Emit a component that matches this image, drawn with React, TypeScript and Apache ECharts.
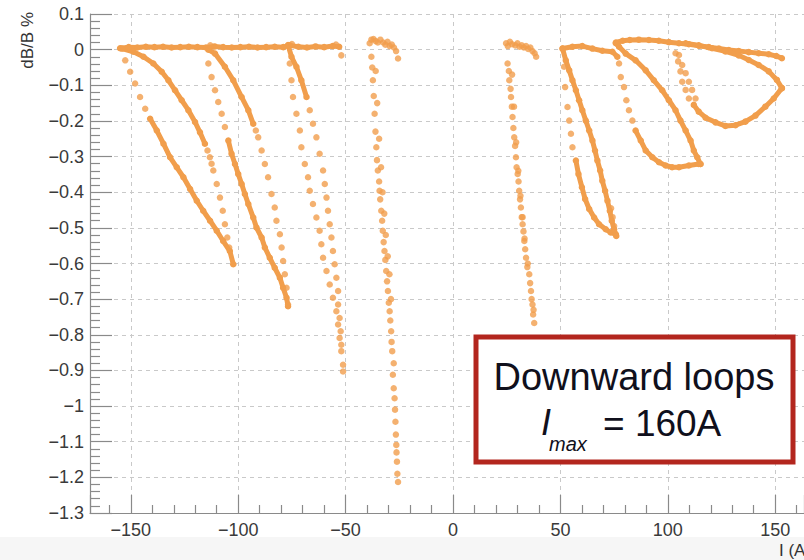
import React, { useEffect, useRef } from 'react';
import * as echarts from 'echarts';

const ORANGE = '#f19e4c';

// axis ranges; y tick values -1.3 .. 0.1 step 0.1
const yMin = -1.3;
const yMax = 0.1;
const xMin = -169;
const xMax = 163.4;

// ---------- negative current side ----------
const topNeg = [[-155,0.004],[-151,0.007],[-147,0.006],[-143,0.008],[-139,0.007],[-135,0.008],[-131,0.006],[-127,0.007],[-123,0.008],[-119,0.007],[-115,0.006],[-111,0.009],[-107,0.007],[-103,0.006],[-99,0.007],[-95,0.008],[-91,0.006],[-87,0.007],[-83,0.008],[-79,0.007],[-76,0.012],[-72,0.008],[-68,0.006],[-64,0.009],[-60,0.007],[-56,0.01],[-53,0.008]];
const topNegExtra = [[-52,-0.016],[-54.5,0.014],[-75,0.016],[-113,0.012]];

const loop1Curve = [[-154.1,0.003],[-148.8,-0.006],[-144.1,-0.02],[-139.5,-0.039],[-135.6,-0.062],[-132.5,-0.086],[-129.4,-0.114],[-126.3,-0.142],[-123.2,-0.17],[-120.1,-0.203],[-117.8,-0.232],[-115.5,-0.264]];
const loop1CurveLow = [[-114.3,-0.283],[-113.2,-0.302],[-112.4,-0.32],[-111.6,-0.339],[-110.0,-0.377],[-108.5,-0.415],[-107.2,-0.452],[-106.2,-0.49],[-105.1,-0.527],[-104.2,-0.555]];
const loop1StraightTop = [[-152.6,-0.03],[-150.3,-0.062],[-148.0,-0.095],[-145.7,-0.133],[-143.3,-0.166]];
const loop1StraightLow = [[-141.0,-0.194],[-137.9,-0.227],[-134.8,-0.264],[-131.7,-0.302],[-128.6,-0.33],[-125.5,-0.358],[-122.4,-0.391],[-119.3,-0.424],[-116.3,-0.452],[-113.1,-0.48],[-110.0,-0.508],[-107.0,-0.537],[-103.9,-0.565],[-102.3,-0.602]];

const loop2LeftTop = [[-113.9,-0.039],[-112.4,-0.077],[-110.8,-0.114],[-109.3,-0.147],[-107.7,-0.18],[-106.2,-0.217]];
const loop2LeftLow = [[-104.6,-0.255],[-103.1,-0.292],[-101.5,-0.321],[-100.0,-0.349],[-98.4,-0.377],[-96.9,-0.405],[-95.3,-0.433],[-93.0,-0.471],[-91.5,-0.499],[-89.1,-0.527],[-87.6,-0.555],[-85.3,-0.584],[-83.0,-0.612],[-80.6,-0.64],[-79.1,-0.668],[-77.5,-0.696],[-76.8,-0.72]];
const loop2RightTop = [[-113.9,0.0],[-110.8,-0.011],[-106.2,-0.048],[-102.3,-0.086],[-98.4,-0.133],[-95.3,-0.17],[-93.0,-0.208]];
const loop2RightLow = [[-91.8,-0.227],[-90.7,-0.246],[-89.1,-0.283],[-87.6,-0.321],[-86.1,-0.358],[-84.5,-0.405],[-83.0,-0.443],[-82.2,-0.48],[-80.6,-0.518],[-79.8,-0.555],[-79.1,-0.593],[-78.3,-0.63],[-77.5,-0.668],[-76.8,-0.715]];

const loop3Left = [[-76.0,-0.039],[-75.2,-0.086],[-74.5,-0.133],[-72.9,-0.18],[-71.3,-0.227],[-70.6,-0.274],[-69.0,-0.321],[-67.5,-0.358],[-66.7,-0.396],[-65.2,-0.433],[-63.6,-0.471],[-62.1,-0.508],[-61.3,-0.546],[-60.5,-0.584],[-58.9,-0.621],[-57.4,-0.659],[-55.9,-0.696],[-54.3,-0.734],[-53.5,-0.771],[-52.8,-0.809],[-52.0,-0.846],[-51.2,-0.884],[-51.2,-0.903]];
const loop3RightTop = [[-76.8,0.013],[-75.2,-0.02],[-72.9,-0.048],[-70.6,-0.086],[-68.2,-0.133]];
const loop3RightLow = [[-66.7,-0.17],[-65.2,-0.208],[-63.6,-0.246],[-62.1,-0.292],[-60.5,-0.339],[-59.7,-0.377],[-58.9,-0.415],[-58.2,-0.452],[-57.4,-0.49],[-56.6,-0.527],[-55.9,-0.565],[-55.1,-0.602],[-54.3,-0.64],[-53.5,-0.677],[-53.5,-0.715],[-52.8,-0.753],[-52.3,-0.79],[-52.0,-0.828]];

const loop4Top = [[-38.8,0.018],[-38,0.028],[-37,0.03],[-36,0.024],[-35,0.02],[-33.8,0.028],[-32.5,0.02],[-31.5,0.014],[-30.5,0.022],[-29.5,0.01],[-28.5,0.014],[-27.5,0.006],[-26.5,-0.004],[-25.6,-0.025],[-38.0,-0.02]];
const loop4A = [[-37.3,-0.086],[-36.5,-0.18],[-35.7,-0.274],[-35.0,-0.339],[-34.2,-0.396],[-33.4,-0.452],[-32.7,-0.508],[-31.9,-0.565],[-31.1,-0.621],[-30.3,-0.677],[-29.5,-0.734],[-28.8,-0.79],[-28.3,-0.846],[-28.0,-0.912],[-27.2,-0.978],[-26.8,-1.044],[-26.4,-1.109],[-26.1,-1.156],[-25.6,-1.213]];
const loop4B = [[-37.6,-0.05],[-36.9,-0.13],[-36.1,-0.23],[-35.4,-0.31],[-34.4,-0.37],[-33.9,-0.42],[-33.0,-0.48],[-32.3,-0.54],[-31.5,-0.59],[-30.7,-0.65],[-29.9,-0.71],[-29.2,-0.76],[-28.6,-0.82],[-27.6,-0.88],[-27.6,-0.95],[-27.0,-1.01],[-26.6,-1.08],[-26.3,-1.13],[-25.9,-1.19]];
const loop4C = [[-36.0,-0.06],[-35.3,-0.15],[-34.4,-0.25],[-33.5,-0.33],[-32.8,-0.4],[-32.0,-0.46],[-31.3,-0.52],[-30.4,-0.58],[-29.6,-0.63],[-28.9,-0.7]];

// ---------- positive current side ----------
const loop5Top = [[24.7,0.018],[25.5,0.01],[26.5,0.022],[27.5,0.015],[29,0.012],[30,0.018],[31,0.008],[32,0.012],[33,0.006],[34,0.01],[35,0.002],[36,0.006],[37,-0.004],[38,-0.01],[38.7,-0.02]];
const loop5A = [[25.4,-0.039],[26.2,-0.086],[27.0,-0.133],[27.7,-0.189],[28.5,-0.246],[29.3,-0.302],[30.1,-0.349],[30.8,-0.396],[31.6,-0.443],[32.4,-0.49],[33.2,-0.537],[34.0,-0.584],[35.5,-0.63],[36.3,-0.677],[37.0,-0.715],[37.3,-0.743],[37.8,-0.767]];
const loop5B = [[26.0,-0.06],[26.8,-0.11],[27.4,-0.16],[28.1,-0.22],[28.9,-0.27],[29.6,-0.33],[30.5,-0.37],[31.2,-0.42],[32.0,-0.47],[32.8,-0.51],[33.6,-0.56],[34.6,-0.61],[35.9,-0.655],[36.6,-0.7],[37.5,-0.73]];
const loop5C = [[27.5,-0.07],[28.4,-0.16],[29.4,-0.26],[30.4,-0.34],[31.4,-0.41],[32.4,-0.47],[33.3,-0.53],[34.8,-0.6]];

const loop6Top = [[51.0,0.003],[55.6,0.008],[60.2,0.01],[64.9,0.003],[69.5,-0.003],[74.2,-0.006],[76.5,-0.02]];
const loop6OuterTop = [[51.7,-0.048],[52.2,-0.105],[53.3,-0.161],[54.1,-0.199],[54.9,-0.236],[55.6,-0.274]];
const loop6OuterLow = [[57.2,-0.311],[58.4,-0.349],[60.0,-0.386],[61.5,-0.419],[63.4,-0.447],[65.7,-0.471],[68.0,-0.49],[71.1,-0.504],[73.4,-0.513],[75.8,-0.518]];
const loop6Inner = [[51.0,0.003],[52.5,-0.03],[54.1,-0.058],[55.6,-0.086],[57.2,-0.114],[58.7,-0.142],[60.2,-0.17],[61.8,-0.199],[63.4,-0.227],[64.9,-0.255],[66.1,-0.283],[67.2,-0.311],[68.5,-0.339],[69.5,-0.368],[70.8,-0.396],[71.9,-0.424],[73.0,-0.452],[73.9,-0.48],[75.0,-0.504],[76.0,-0.523]];
const loop6Dots = [[73.6,-0.445],[74.3,-0.47],[75.0,-0.495]];

const topPos = [[75.8,0.02],[79,0.025],[82.3,0.027],[86.5,0.028],[91.2,0.027],[95.8,0.025],[100.5,0.021],[105.2,0.018],[109.8,0.015],[114.5,0.011],[119.1,0.007],[123.8,0.003],[128.4,-0.001],[133.0,-0.004],[137.7,-0.007],[142.3,-0.01],[147.0,-0.013],[150.5,-0.018],[153.1,-0.024]];
const loop7Right = [[75.8,0.018],[77.3,0.008],[80.4,-0.011],[85.0,-0.03],[89.7,-0.058],[93.5,-0.086],[97.4,-0.114],[100.5,-0.142],[103.6,-0.17],[105.9,-0.199],[108.3,-0.227],[110.6,-0.255],[112.1,-0.283],[113.7,-0.302],[115.2,-0.321]];
const loop7LeftTop = [[77.3,-0.039],[78.1,-0.077],[79.6,-0.105],[80.7,-0.142],[81.9,-0.17],[83.5,-0.199]];
const loop7LeftLow = [[85.0,-0.227],[87.4,-0.255],[89.7,-0.283],[92.8,-0.302],[95.9,-0.316],[99.0,-0.325],[102.0,-0.33],[105.2,-0.33],[109.8,-0.325],[114.4,-0.321],[115.2,-0.321]];

const loop8DotA = [[103.6,-0.01],[104.8,-0.033],[105.9,-0.061],[106.7,-0.09],[108.3,-0.113],[109.8,-0.137]];
const loop8DotB = [[105.2,-0.015],[106.7,-0.043],[108.3,-0.066],[109.8,-0.09],[111.3,-0.113],[112.9,-0.137]];
const loop8Bottom = [[112.1,-0.155],[114.4,-0.174],[117.6,-0.191],[122.2,-0.204],[126.8,-0.214],[131.5,-0.212],[136.1,-0.202],[140.8,-0.185],[145.4,-0.16],[149.3,-0.137],[153.1,-0.108]];
const loop8Return = [[153.1,-0.108],[150.8,-0.085],[147.0,-0.061],[142.3,-0.043],[137.7,-0.029],[133.0,-0.016],[126.8,-0.005],[120.6,0.004],[114.4,0.012],[108.3,0.018]];

const denseBranches = [topNeg, loop1Curve, loop1StraightLow, loop2LeftLow, loop2RightTop, loop3RightTop, loop6Top, loop6OuterLow, loop6Inner, topPos, loop7Right, loop7LeftLow, loop8Bottom, loop8Return];
const sparseBranches = [topNegExtra, loop1CurveLow, loop1StraightTop, loop2LeftTop, loop2RightLow, loop3Left, loop3RightLow, loop4Top, loop4A, loop4B, loop4C, loop5Top, loop5A, loop5B, loop5C, loop6OuterTop, loop6Dots, loop7LeftTop, loop8DotA, loop8DotB];

const FONT = '"Liberation Sans", Arial, Helvetica, sans-serif';
const MINUS = '\u2212';

export default function App() {
  const ref = useRef<HTMLDivElement>(null);
  useEffect(() => {
    const chart = echarts.init(ref.current as HTMLDivElement, null, { renderer: 'svg' });
    const series: any[] = [
      ...denseBranches.map((d) => ({
        type: 'line', data: d, symbol: 'circle', symbolSize: 6.5, showSymbol: true, showAllSymbol: true,
        lineStyle: { width: 5, color: ORANGE, cap: 'round', join: 'round' },
        itemStyle: { color: ORANGE }, silent: true, z: 3,
      })),
      ...sparseBranches.map((d) => ({
        type: 'scatter', data: d, symbol: 'circle', symbolSize: 6.5,
        itemStyle: { color: ORANGE }, silent: true, z: 3,
      })),
    ];
    chart.setOption({
      animation: false,
      backgroundColor: '#ffffff',
      grid: { left: 90, right: 0, top: 14, bottom: 47 },
      xAxis: {
        type: 'value', min: xMin, max: xMax, splitNumber: 6,
        axisLine: { show: true, onZero: false, lineStyle: { color: '#8a8a8a', width: 1.2 } },
        axisTick: { show: true, inside: true, length: 18, lineStyle: { color: '#8a8a8a', width: 1.2 } },
        minorTick: { show: true, splitNumber: 5, length: 8, lineStyle: { color: '#8a8a8a', width: 1.2 } },
        splitLine: { show: true, lineStyle: { color: '#c9c9c9', type: [4, 4], width: 1 } },
        axisLabel: {
          fontSize: 18, color: '#3a3a3a', fontFamily: FONT, margin: 8,
          showMinLabel: false, showMaxLabel: false,
          formatter: (v: number) => (v === 0 ? '0' : (v < 0 ? MINUS : '') + Math.abs(v)),
        },
      },
      yAxis: {
        type: 'value', min: yMin, max: yMax, interval: 0.1,
        axisLine: { show: true, onZero: false, lineStyle: { color: '#8a8a8a', width: 1.2 } },
        axisTick: { show: true, inside: true, length: 22, lineStyle: { color: '#8a8a8a', width: 1.2 } },
        minorTick: { show: true, splitNumber: 5, length: 10, lineStyle: { color: '#8a8a8a', width: 1.2 } },
        splitLine: { show: true, lineStyle: { color: '#c9c9c9', type: [4, 4], width: 1 } },
        axisLabel: {
          fontSize: 18, color: '#3a3a3a', fontFamily: FONT, margin: 6,
          formatter: (v: number) => {
            const r = Math.round(v * 10) / 10;
            if (r === 0) return '0';
            return (r < 0 ? MINUS : '') + String(Math.abs(r));
          },
        },
      },
      graphic: [
        { type: 'rect', shape: { x: 0, y: 537, width: 804, height: 23 }, style: { fill: '#f6f6f6' }, z: -10, silent: true },
        { type: 'text', x: 27, y: 12, rotation: Math.PI / 2, style: { text: 'dB/B %', fontSize: 17, fontFamily: FONT, fill: '#333', align: 'right', verticalAlign: 'middle' }, z: 20 },
        { type: 'text', x: 779, y: 550, style: { text: 'I (A)', fontSize: 17, fontFamily: FONT, fill: '#333', align: 'left', verticalAlign: 'middle' }, z: 20 },
        { type: 'rect', shape: { x: 476, y: 337, width: 317, height: 125 }, style: { fill: '#ffffff', stroke: '#b3261e', lineWidth: 5 }, z: 30 },
        { type: 'text', x: 634, y: 377, style: { text: 'Downward loops', fontSize: 38, fontFamily: FONT, fill: '#10101c', align: 'center', verticalAlign: 'middle' }, z: 31 },
        { type: 'text', x: 541, y: 422, style: { text: 'I', fontSize: 36, fontStyle: 'italic', fontFamily: FONT, fill: '#10101c', align: 'left', verticalAlign: 'middle' }, z: 31 },
        { type: 'text', x: 549, y: 444, style: { text: 'max', fontSize: 20, fontStyle: 'italic', fontFamily: FONT, fill: '#10101c', align: 'left', verticalAlign: 'middle' }, z: 31 },
        { type: 'text', x: 603, y: 423, style: { text: '= 160A', fontSize: 37, fontFamily: FONT, fill: '#10101c', align: 'left', verticalAlign: 'middle' }, z: 31 },
      ],
      series,
    });
    return () => chart.dispose();
  }, []);
  return <div ref={ref} style={{ position: 'fixed', left: 0, top: 0, width: 804, height: 560, background: '#fff' }} />;
}
